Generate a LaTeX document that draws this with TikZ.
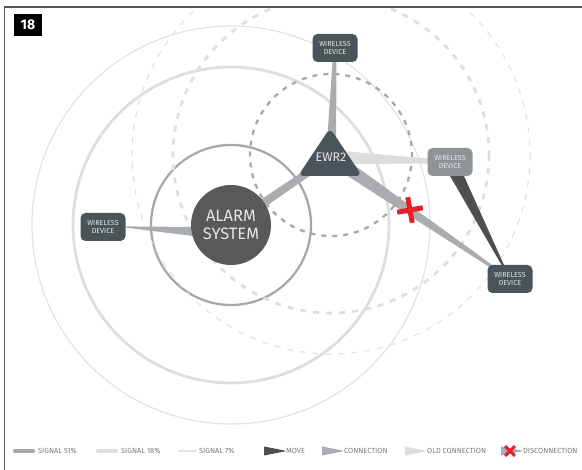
\documentclass[tikz,border=0pt]{standalone}
\usepackage{fontspec}
\setmainfont{Fira Sans}
\usetikzlibrary{calc,backgrounds}
\definecolor{slate}{HTML}{4B5458}
\definecolor{alarmgray}{HTML}{58595B}
\definecolor{oldgray}{HTML}{8E9496}
\definecolor{conngray}{HTML}{A9ADAF}
\definecolor{oldconn}{HTML}{DCDDDD}
\definecolor{movegray}{HTML}{4D4F51}
\definecolor{sigA}{HTML}{A6A9AB}
\definecolor{sigB}{HTML}{DEDEDE}
\definecolor{sigC}{HTML}{E2E2E2}
\definecolor{legtext}{HTML}{77797B}
\definecolor{devtext}{HTML}{E2E5E6}
\definecolor{discred}{HTML}{E8202A}
\definecolor{framegray}{HTML}{555555}
\newcommand\wedgefill[5]{%
  \fill[#1] ($(#2)!#3!90:(#4)$) -- ($(#2)!#3!-90:(#4)$) -- ($(#4)!#5!90:(#2)$) -- ($(#4)!#5!-90:(#2)$) -- cycle;}
\tikzset{
  devbox/.style={rectangle, rounded corners=5pt, fill=slate, minimum width=45pt, minimum height=28pt,
    inner sep=0pt, text=devtext, align=center, font=\fontsize{7.2}{8.7}\selectfont},
  sigstrong/.style={draw=sigA, line width=2.3pt},
  sigmid/.style={draw=sigB, line width=2.8pt},
  sigweak/.style={draw=sigC, line width=1.2pt},
  legtxt/.style={anchor=base west, inner sep=0pt, text=legtext, font=\fontsize{7.4}{8}\selectfont},
}
\begin{document}
\begin{tikzpicture}[x=1pt,y=-1pt]
\useasboundingbox (0,0) rectangle (582,470);
% frame
\draw[framegray, line width=1.5pt] (4.5,470) -- (4.5,7) -- (582,7);
\node[fill=black, text=white, font=\bfseries\fontsize{14}{14}\selectfont, minimum width=28pt, minimum height=22pt, inner sep=0pt] (num) at (28,25) {18};
% main nodes
\node[circle, fill=alarmgray, minimum size=80pt, inner sep=0pt, text=devtext, align=center,
  font=\fontsize{16.5}{18}\selectfont] (alarm) at (231,225) {ALARM\\SYSTEM};
\coordinate (ewrc) at (331,155);
\fill[slate, rounded corners=6pt] (298,176) -- (330,128) -- (362,176) -- cycle;
\node[text=devtext, inner sep=0pt, font=\fontsize{12.5}{13}\selectfont] (ewr) at (331,157) {EWR2};
\node[devbox] (devtop) at (335,48) {WIRELESS\\DEVICE};
\node[devbox, fill=oldgray] (devright) at (450,162) {WIRELESS\\DEVICE};
\node[devbox] (devfar) at (510,279) {WIRELESS\\DEVICE};
\node[devbox] (devleft) at (103,227) {WIRELESS\\DEVICE};
\begin{scope}[on background layer]
  \begin{scope}
    \clip (5.25,7.75) rectangle (582,470);
    \draw[sigstrong] (alarm.center) circle[radius=80];
    \draw[sigmid] (alarm.center) circle[radius=158];
    \draw[sigweak] (alarm.center) circle[radius=199];
    \draw[sigstrong, dash pattern=on 5pt off 6pt] (ewrc) circle[radius=81];
    \draw[sigmid, dash pattern=on 6pt off 7pt] (ewrc) circle[radius=158];
    \draw[sigweak, dash pattern=on 6pt off 7pt] (ewrc) circle[radius=199];
  \end{scope}
  \coordinate (alarmw) at ($(alarm.center)+(0,9)$);
  \wedgefill{conngray}{alarmw}{6.7pt}{devleft.east}{0.6pt}
  \wedgefill{conngray}{alarm.center}{4.5pt}{ewr.center}{3.5pt}
  \wedgefill{conngray}{ewr.center}{5pt}{devtop.center}{1.5pt}
  \wedgefill{oldconn}{ewr.center}{7pt}{devright.center}{1.5pt}
  \wedgefill{conngray}{ewr.center}{7pt}{devfar.center}{1pt}
  \wedgefill{movegray}{devright.center}{7pt}{devfar.center}{0.3pt}
\end{scope}
% disconnection cross
\coordinate (cross) at (410,210);
\begin{scope}[shift={(cross)}, rotate=10]
  \draw[discred, line width=5pt] (-13,0) -- (13,0) (0,-13) -- (0,13);
\end{scope}
% legend
\draw[sigA, line width=4.5pt, line cap=round] (15,451) -- (33,451);
\node[legtxt] (l1) at (38,453.5) {SIGNAL 51\%};
\draw[sigB, line width=4.5pt, line cap=round] (98,451) -- (116,451);
\node[legtxt] (l2) at (121,453.5) {SIGNAL 18\%};
\draw[sigC, line width=2pt, line cap=round] (179,451) -- (196,451);
\node[legtxt] (l3) at (199,453.5) {SIGNAL 7\%};
\coordinate (m1) at (264,451); \coordinate (m2) at (285,451);
\wedgefill{movegray}{m1}{4.5pt}{m2}{0.4pt}
\node[legtxt] (l4) at (286,453.5) {MOVE};
\coordinate (c1) at (322,451); \coordinate (c2) at (343,451);
\wedgefill{conngray}{c1}{4.5pt}{c2}{0.4pt}
\node[legtxt] (l5) at (344,453.5) {CONNECTION};
\coordinate (o1) at (405,451); \coordinate (o2) at (426,451);
\wedgefill{oldconn}{o1}{4.5pt}{o2}{0.4pt}
\node[legtxt] (l6) at (427,453.5) {OLD CONNECTION};
\coordinate (d1) at (501,451); \coordinate (d2) at (522,451);
\wedgefill{conngray}{d1}{4.5pt}{d2}{0.4pt}
\begin{scope}[shift={(510,451)}, rotate=45]
  \draw[discred, line width=3pt] (-7,0) -- (7,0) (0,-7) -- (0,7);
\end{scope}
\node[legtxt] (l7) at (523,453.5) {DISCONNECTION};
\end{tikzpicture}
\end{document}
